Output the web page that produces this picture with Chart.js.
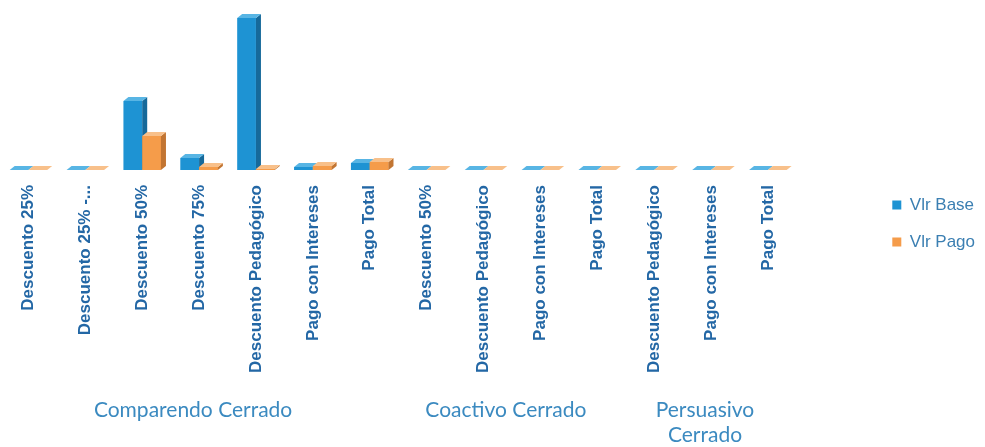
<!DOCTYPE html>
<html><head><meta charset="utf-8">
<script src="https://cdn.jsdelivr.net/npm/chart.js@4.4.1/dist/chart.umd.min.js"></script>
<style>html,body{margin:0;padding:0;background:#fff;}#wrap{width:985px;height:447px;position:relative;}</style>
</head><body><div id="wrap"><canvas id="c"></canvas></div>
<script>
const categories = ['Descuento 25%', 'Descuento 25% -...', 'Descuento 50%', 'Descuento 75%', 'Descuento Pedagógico', 'Pago con Intereses', 'Pago Total',
  'Descuento 50%', 'Descuento Pedagógico', 'Pago con Intereses', 'Pago Total',
  'Descuento Pedagógico', 'Pago con Intereses', 'Pago Total'];
const groupNames = [['Comparendo Cerrado'], ['Coactivo Cerrado'], ['Persuasivo', 'Cerrado']];
const groupSizes = [7, 4, 3];
const seriesNames = ['Vlr Base', 'Vlr Pago'];
const vlrBase = [0, 0, 345, 60, 760, 15, 35, 0, 0, 0, 0, 0, 0, 0];
const vlrPago = [0, 0, 170, 15, 5, 20, 40, 0, 0, 0, 0, 0, 0, 0];
const yMax = 850;

const shades = [
  {front: '#1e93d3', side: '#16699a', top: '#58b5e4'},
  {front: '#f59c4a', side: '#c27532', top: '#f8c08a'}
];
const DX = 5, DY = 4;

function faces(ctx, el, s) {
  const {x, y, base, width} = el.getProps(['x', 'y', 'base', 'width'], true);
  const l = x - width / 2, r = x + width / 2;
  ctx.fillStyle = s.side;
  ctx.beginPath();
  ctx.moveTo(r, y); ctx.lineTo(r + DX, y - DY); ctx.lineTo(r + DX, base - DY); ctx.lineTo(r, base);
  ctx.closePath(); ctx.fill();
  ctx.fillStyle = s.top;
  ctx.beginPath();
  ctx.moveTo(l, y); ctx.lineTo(l + DX, y - DY); ctx.lineTo(r + DX, y - DY); ctx.lineTo(r, y);
  ctx.closePath(); ctx.fill();
}

const bar3d = {
  id: 'bar3d',
  afterDatasetsDraw(chart) {
    const ctx = chart.ctx;
    const metas = [chart.getDatasetMeta(0), chart.getDatasetMeta(1)];
    ctx.save();
    categories.forEach((c, i) => {
      metas.forEach((m, d) => {
        const el = m.data[i];
        if (d > 0) el.draw(ctx);
        faces(ctx, el, shades[d]);
      });
    });
    ctx.restore();
  }
};

const groupLabels = {
  id: 'groupLabels',
  afterDraw(chart) {
    const ctx = chart.ctx, xs = chart.scales.x;
    const half = (xs.getPixelForValue(1) - xs.getPixelForValue(0)) / 2;
    let start = 0;
    ctx.save();
    ctx.font = '21px Lato';
    ctx.fillStyle = '#3b8ac0';
    ctx.textAlign = 'center';
    ctx.textBaseline = 'middle';
    groupSizes.forEach((n, g) => {
      const a = xs.getPixelForValue(start) - half;
      const b = xs.getPixelForValue(start + n - 1) + half;
      groupNames[g].forEach((line, i) => ctx.fillText(line, (a + b) / 2 - 6, 410 + i * 25));
      start += n;
    });
    ctx.restore();
  }
};

new Chart(document.getElementById('c'), {
  type: 'bar',
  data: {
    labels: categories,
    datasets: [
      {label: seriesNames[0], data: vlrBase, backgroundColor: shades[0].front},
      {label: seriesNames[1], data: vlrPago, backgroundColor: shades[1].front}
    ]
  },
  options: {
    responsive: true,
    maintainAspectRatio: false,
    animation: false,
    devicePixelRatio: 1,
    categoryPercentage: 0.66,
    barPercentage: 1.0,
    layout: {padding: {top: 0, right: 0, bottom: 0, left: 0}},
    scales: {
      x: {
        grid: {display: false, drawTicks: false},
        border: {display: false},
        ticks: {
          autoSkip: false, minRotation: 90, maxRotation: 90, padding: 15,
          color: '#2367a5', font: {family: "'Liberation Sans', Arial, sans-serif", size: 17, weight: 'bold'}
        },
        afterFit(s) { s.height = 447 - 170; }
      },
      y: {
        position: 'right',
        min: 0, max: yMax,
        grid: {display: false, drawTicks: false},
        border: {display: false},
        ticks: {display: false},
        afterFit(s) { s.width = 76; }
      }
    },
    plugins: {
      legend: {
        position: 'right',
        labels: {
          boxWidth: 9, boxHeight: 9, padding: 20,
          color: '#3b7fb2', font: {family: 'Liberation Sans', size: 17},
          sort: (a, b) => a.datasetIndex - b.datasetIndex
        }
      },
      tooltip: {enabled: false}
    }
  },
  plugins: [bar3d, groupLabels]
});
</script></body></html>
